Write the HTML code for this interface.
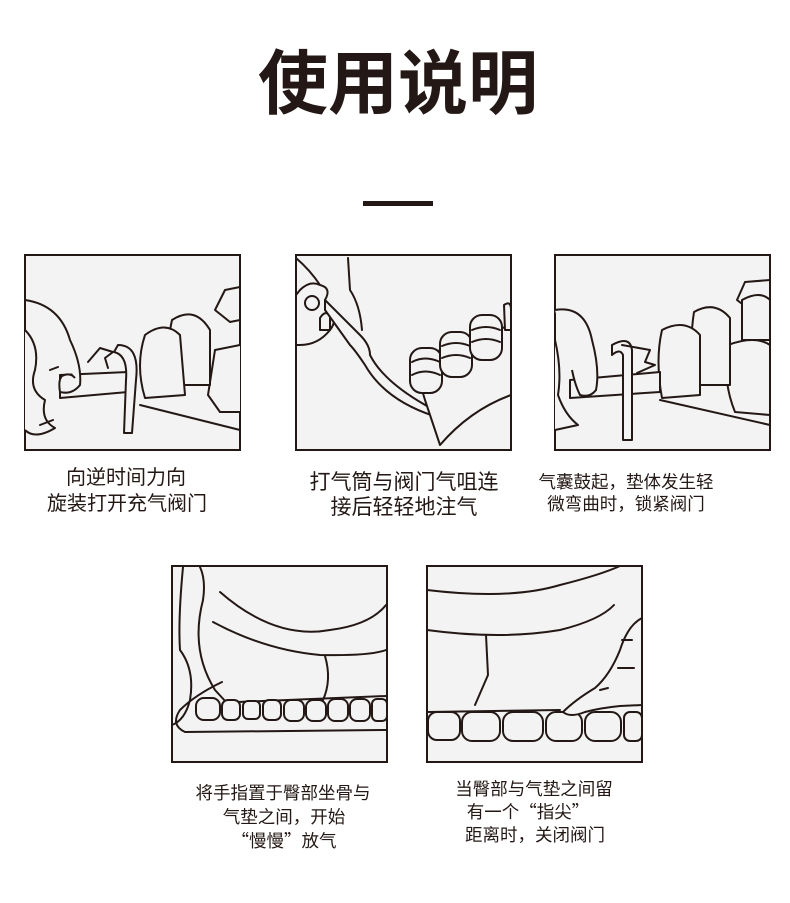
<!DOCTYPE html>
<html><head><meta charset="utf-8"><style>
html,body{margin:0;padding:0;background:#fff}
svg{display:block}
text{font-family:"Noto Sans CJK SC",sans-serif;fill:#231815;text-anchor:middle}
.b{fill:#f3f3f3;stroke:#231815;stroke-width:2}
.l{fill:none;stroke:#231815;stroke-width:2;stroke-linecap:round;stroke-linejoin:round}
.w{fill:#f3f3f3;stroke:#231815;stroke-width:2;stroke-linejoin:round}
</style></head><body>
<svg width="790" height="903" viewBox="0 0 790 903" xmlns="http://www.w3.org/2000/svg">
<text x="398" y="108" font-size="70" font-weight="bold">使用说明</text>
<rect x="363" y="201" width="70" height="5" fill="#231815"/>

<!-- box1 -->
<rect class="b" x="25" y="255" width="215" height="195"/>
<g>
<path class="l" d="M240 287 L225 290 L215 310 L230 322 L240 320"/>
<path class="w" d="M240 345 L215 350 L208 395 L220 412 L240 412"/>
<path class="w" d="M172 320 Q195 305 210 330 L210 385 L175 385 Q163 360 172 320Z"/>
<path class="w" d="M145 335 Q165 320 180 335 L185 395 L145 398 Q135 365 145 335Z"/>
<path class="l" d="M140 405 L240 430"/>
<path class="w" d="M60 375 L128 372 L128 392 L60 398Z"/>
<path class="w" d="M118 345 Q140 345 136 380 L132 433 L124 433 L126 380 Q128 355 114 352Z"/>
<path class="l" d="M88 362 L100 348 L113 352 L105 358 L108 368"/>
<path class="w" d="M25 300 Q60 305 70 340 Q82 365 80 385 Q72 395 60 392 Q58 380 62 376 Q70 372 75 378 M25 330 Q40 345 35 370 Q28 390 45 400 Q40 420 55 428 Q35 440 25 430"/>
<path class="l" d="M50 370 L58 367 M40 425 L53 420"/>
</g>

<!-- box2 -->
<rect class="b" x="296" y="255" width="215" height="195"/>
<g>
<path class="l" d="M296 258 Q310 270 320 285"/>
<path class="w" d="M300 290 Q310 280 320 285 Q332 288 325 300 L330 310 Q338 320 330 330 Q318 345 300 345 L296 345 L296 295Z"/>
<circle class="w" cx="312" cy="303" r="7"/>
<path class="w" d="M320 318 Q325 310 330 315 L330 330 L320 330Z"/>
<path class="l" d="M348 258 L350 290 Q360 305 362 330"/>
<path class="w" d="M325 300 L360 335 Q370 345 370 355 Q385 385 440 413 Q445 418 434 416 Q385 400 365 365 Q355 350 350 345 L325 310Z"/>
<path class="w" d="M425 400 L413 360 L511 325 L511 395 Q470 410 440 445 Z"/>
<g class="w">
<rect x="410" y="348" width="32" height="45" rx="12"/>
<rect x="440" y="332" width="32" height="45" rx="12"/>
<rect x="470" y="315" width="32" height="45" rx="12"/>
</g>
<path class="l" d="M412 362 Q425 355 440 362 M412 375 Q425 368 440 375 M442 346 Q456 340 470 346 M442 358 Q456 352 470 358 M472 330 Q486 324 500 330 M472 342 Q486 336 500 342"/>
<path class="w" d="M504 305 Q511 300 511 310 L511 330 L505 330Z"/>
</g>

<!-- box3 -->
<rect class="b" x="555" y="255" width="215" height="195"/>
<g>
<path class="l" d="M770 280 L745 282 L737 300 L750 310 L770 305"/>
<path class="w" d="M742 300 Q760 290 770 300 L770 340 L742 340Z"/>
<path class="w" d="M728 345 Q755 335 770 345 L770 415 L735 412 Q722 380 728 345Z"/>
<path class="w" d="M694 312 Q715 300 730 318 L730 385 L697 385 Q688 350 694 312Z"/>
<path class="w" d="M662 330 Q685 318 700 335 L700 395 L662 398 Q655 360 662 330Z"/>
<path class="l" d="M660 400 L770 425"/>
<path class="w" d="M570 380 L660 372 L660 392 L570 398Z"/>
<path class="w" d="M612 345 Q630 335 632 350 L632 440 L623 440 L623 355 Q620 348 612 355Z"/>
<path class="l" d="M622 345 L650 350 L645 362 L655 365 L637 373"/>
<path class="w" d="M555 310 Q585 305 592 340 Q600 370 596 390 Q590 398 580 395 Q575 385 572 370 M555 340 Q562 370 558 395 Q565 415 578 425 L555 430"/>
</g>

<!-- box4 -->
<rect class="b" x="172" y="566" width="215" height="196"/>
<g>
<path class="l" d="M183 567 Q178 620 180 650 Q195 670 190 700 Q185 720 172 725"/>
<path class="l" d="M200 567 Q206 580 203 600 Q190 650 215 690 L238 715"/>
<path class="l" d="M220 592 Q275 640 330 630 Q370 625 386 605"/>
<path class="l" d="M213 622 Q265 650 320 655 Q370 656 386 650"/>
<path class="l" d="M325 656 Q332 680 323 700"/>
<path class="l" d="M222 682 Q195 695 180 710 Q170 725 185 732 L386 730"/>
<path class="l" d="M238 702 L386 696"/>
<g class="w">
<rect x="196" y="698" width="24" height="22" rx="8"/>
<rect x="222" y="700" width="18" height="20" rx="6"/>
<rect x="243" y="701" width="17" height="18" rx="5"/>
<rect x="263" y="700" width="18" height="20" rx="6"/>
<rect x="284" y="700" width="20" height="21" rx="7"/>
<rect x="306" y="700" width="20" height="21" rx="7"/>
<rect x="328" y="699" width="20" height="22" rx="7"/>
<rect x="350" y="699" width="20" height="22" rx="7"/>
<rect x="372" y="699" width="15" height="22" rx="5"/>
</g>
</g>

<!-- box5 -->
<rect class="b" x="427" y="566" width="215" height="196"/>
<g>
<path class="l" d="M427 590 Q510 600 560 585 Q600 575 620 566"/>
<path class="l" d="M427 630 Q500 640 560 630 Q600 620 614 605"/>
<path class="l" d="M486 635 L488 675 L475 705"/>
<path class="l" d="M427 712 L560 710"/>
<g class="w">
<rect x="428" y="712" width="32" height="28" rx="9"/>
<rect x="462" y="712" width="38" height="29" rx="10"/>
<rect x="503" y="712" width="40" height="29" rx="10"/>
<rect x="546" y="712" width="36" height="29" rx="10"/>
<rect x="585" y="712" width="36" height="29" rx="10"/>
<rect x="624" y="712" width="18" height="29" rx="6"/>
</g>
<path class="w" d="M642 618 Q628 625 620 650 Q610 675 595 688 Q575 700 563 712 Q570 718 585 712 Q600 708 620 706 L642 705Z"/>
<path class="l" d="M622 640 L632 640 M618 668 L634 668 M600 690 L608 688"/>
</g>

<text x="126" y="484" font-size="20">向逆时间力向</text>
<text x="127" y="510" font-size="20">旋装打开充气阀门</text>
<text x="404" y="489" font-size="21">打气筒与阀门气咀连</text>
<text x="404" y="514" font-size="21">接后轻轻地注气</text>
<text x="626" y="488" font-size="17.5">气囊鼓起，垫体发生轻</text>
<text x="626" y="510" font-size="17.5">微弯曲时，锁紧阀门</text>
<text x="283" y="799" font-size="17.5">将手指置于臀部坐骨与</text>
<text x="284" y="823" font-size="17.5">气垫之间，开始</text>
<text x="284" y="847" font-size="17.5">“慢慢”放气</text>
<text x="534" y="795" font-size="17.5">当臀部与气垫之间留</text>
<text x="528" y="818" font-size="17.5">有一个“指尖”</text>
<text x="535" y="841" font-size="17.5">距离时，关闭阀门</text>
</svg>
</body></html>
